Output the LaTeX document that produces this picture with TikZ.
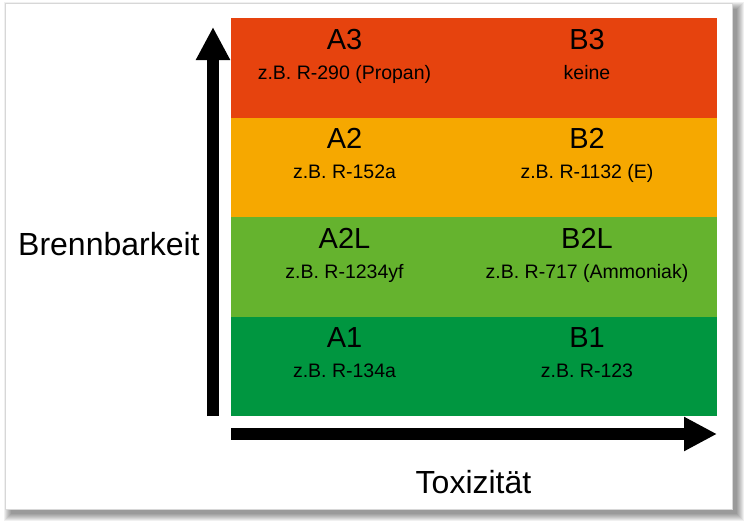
\documentclass[tikz,border=0pt]{standalone}
\usepackage{fontspec}
\setmainfont{Liberation Sans}
\usetikzlibrary{arrows.meta}
\definecolor{cA3}{RGB}{230,67,14}
\definecolor{cA2}{RGB}{246,168,0}
\definecolor{cA2L}{RGB}{101,179,46}
\definecolor{cA1}{RGB}{0,150,64}
\definecolor{cardline}{RGB}{215,215,215}
\tikzset{
  title/.style={anchor=base, inner sep=0pt, font=\fontsize{29}{34}\selectfont},
  sub/.style={anchor=base, inner sep=0pt, font=\fontsize{19.5}{23}\selectfont},
  axislabel/.style={anchor=base, inner sep=0pt, font=\fontsize{32}{38}\selectfont},
  axis/.style={line width=11.5pt, -{Triangle[length=33pt,width=32pt]}},
}
\begin{document}
\begin{tikzpicture}[x=1pt,y=-1pt]
\useasboundingbox (0,0) rectangle (750,528);
\fill[white] (0,0) rectangle (750,528);
% shadow
\foreach \k in {0,1,...,7}{
  \fill[black,opacity=0.06] (11-\k,9-\k) rectangle (737+\k,514+\k);
}
% card
\fill[white] (5,3) rectangle (732,509);
\draw[cardline,line width=0.6pt] (5,3) rectangle (732,509);
% bands
\fill[cA3]  (231,18)    rectangle (717,117.5);
\fill[cA2]  (231,117.5) rectangle (717,217);
\fill[cA2L] (231,217)   rectangle (717,316.5);
\fill[cA1]  (231,316.5) rectangle (717,416);
% texts
\node[title] (A3) at (344.5,49) {A3};
\node[sub] (A3s) at (344.5,79) {z.B. R-290 (Propan)};
\node[title] (B3) at (587,49) {B3};
\node[sub] (B3s) at (587,79) {keine};
\node[title] (A2) at (344.5,148.5) {A2};
\node[sub] (A2s) at (344.5,178.5) {z.B. R-152a};
\node[title] (B2) at (587,148.5) {B2};
\node[sub] (B2s) at (587,178.5) {z.B. R-1132 (E)};
\node[title] (A2L) at (344.5,248) {A2L};
\node[sub] (A2Ls) at (344.5,278) {z.B. R-1234yf};
\node[title] (B2L) at (587,248) {B2L};
\node[sub] (B2Ls) at (587,278) {z.B. R-717 (Ammoniak)};
\node[title] (A1) at (344.5,347.5) {A1};
\node[sub] (A1s) at (344.5,377.5) {z.B. R-134a};
\node[title] (B1) at (587,347.5) {B1};
\node[sub] (B1s) at (587,377.5) {z.B. R-123};
% axes
\coordinate (vstart) at (213,416);
\coordinate (vend) at (213,27);
\coordinate (hstart) at (231,434);
\coordinate (hend) at (717,434);
\draw[axis] (vstart) -- (vend);
\draw[axis] (hstart) -- (hend);
\node[axislabel, anchor=base west] (yl) at (18,255) {Brennbarkeit};
\node[axislabel] (xl) at (473.5,493) {Toxizität};
\end{tikzpicture}
\end{document}
